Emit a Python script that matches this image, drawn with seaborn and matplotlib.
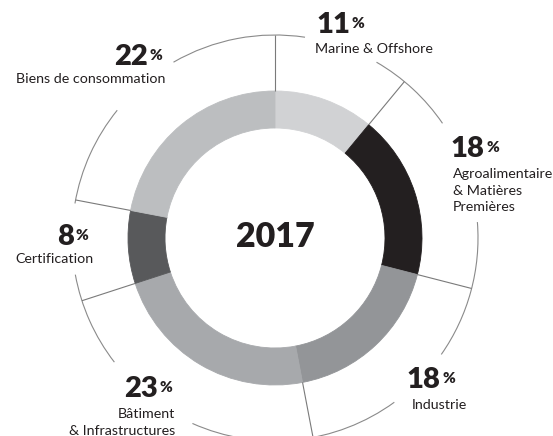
import numpy as np
import matplotlib
matplotlib.use("Agg")
import matplotlib.pyplot as plt
from matplotlib.patches import Arc
import seaborn as sns

# Revenue breakdown by business line
sectors = [
    ["Marine & Offshore"],
    ["Agroalimentaire", "& Matières", "Premières"],
    ["Industrie"],
    ["Bâtiment", "& Infrastructures"],
    ["Certification"],
    ["Biens de consommation"],
]
shares = [11, 18, 18, 23, 8, 22]
year = "2017"
colors = ["#d1d2d4", "#231f20", "#939598", "#a7a9ac", "#58595b", "#bcbec0"]

# Canvas and ring geometry (pixels, y downwards)
W, H = 553, 436
CX, CY = 275, 238
R_OUT, R_IN, R_GUIDE = 147, 110, 203

# Thin outer guide arcs, clockwise degrees from 12 o'clock
guide_arcs = [(330, 368.5), (30, 55.6), (85.5, 125), (144, 204),
              (232.3, 259.6), (279.8, 309)]

# Label anchors: number left x / baseline, caption x / first baseline / alignment
label_layout = [
    dict(nx=316, ny=33, tx=315, ty=53, ha="left"),
    dict(nx=451, ny=157, tx=453, ty=178, ha="left"),
    dict(nx=407, ny=388, tx=412, ty=409, ha="left"),
    dict(nx=124, ny=397, tx=175, ty=418, ha="right"),
    dict(nx=57, ny=245, tx=15, ty=263, ha="left"),
    dict(nx=114, ny=65, tx=165, ty=83, ha="right"),
]
LINE_STEP = 16.5

sns.set_theme(style="white")
plt.rcParams["font.family"] = ["Lato", "DejaVu Sans"]

fig = plt.figure(figsize=(W / 100, H / 100), dpi=100)
ax = fig.add_axes([0, 0, 1, 1])

wedges, _ = ax.pie(
    shares, colors=colors, startangle=-90, counterclock=True,
    radius=R_OUT, center=(CX, CY),
    wedgeprops=dict(width=R_OUT - R_IN, linewidth=0.6),
)
for w in wedges:
    w.set_edgecolor(w.get_facecolor())

ax.set_xlim(0, W)
ax.set_ylim(H, 0)
ax.set_aspect("equal")
ax.axis("off")

guide_color = "#8a8a8a"
for a1, a2 in guide_arcs:
    ax.add_patch(Arc((CX, CY), 2 * R_GUIDE, 2 * R_GUIDE,
                     theta1=a1 - 90, theta2=a2 - 90,
                     color=guide_color, lw=0.8))

# Radial separators at every slice boundary
cum = np.concatenate([[0], np.cumsum(shares)[:-1]])
angles = np.deg2rad(360.0 * cum / sum(shares))
for a in angles:
    xs = [CX + R_OUT * np.sin(a), CX + R_GUIDE * np.sin(a)]
    ys = [CY - R_OUT * np.cos(a), CY - R_GUIDE * np.cos(a)]
    ax.plot(xs, ys, color="#7a7a7a", lw=0.8, solid_capstyle="butt")

ink = "#231f20"
ax.text(CX, 247, year, ha="center", va="baseline", fontsize=24.5,
        fontweight="heavy", color=ink)

num_texts = []
for val, lay in zip(shares, label_layout):
    t = ax.text(lay["nx"], lay["ny"], f"{val}", ha="left", va="baseline",
                fontsize=21, fontweight="heavy", color=ink)
    num_texts.append(t)

fig.canvas.draw()
renderer = fig.canvas.get_renderer()
inv = ax.transData.inverted()
for t, lay, lines in zip(num_texts, label_layout, sectors):
    bb = t.get_window_extent(renderer)
    x_end = inv.transform((bb.x1, bb.y0))[0]
    ax.text(x_end + 2, lay["ny"] - 5, "%", ha="left", va="baseline",
            fontsize=11, fontweight="heavy", color=ink)
    for i, line in enumerate(lines):
        ax.text(lay["tx"], lay["ty"] + i * LINE_STEP, line, ha=lay["ha"],
                va="baseline", fontsize=10.3, color=ink)

fig.savefig("out.png", dpi=100)
